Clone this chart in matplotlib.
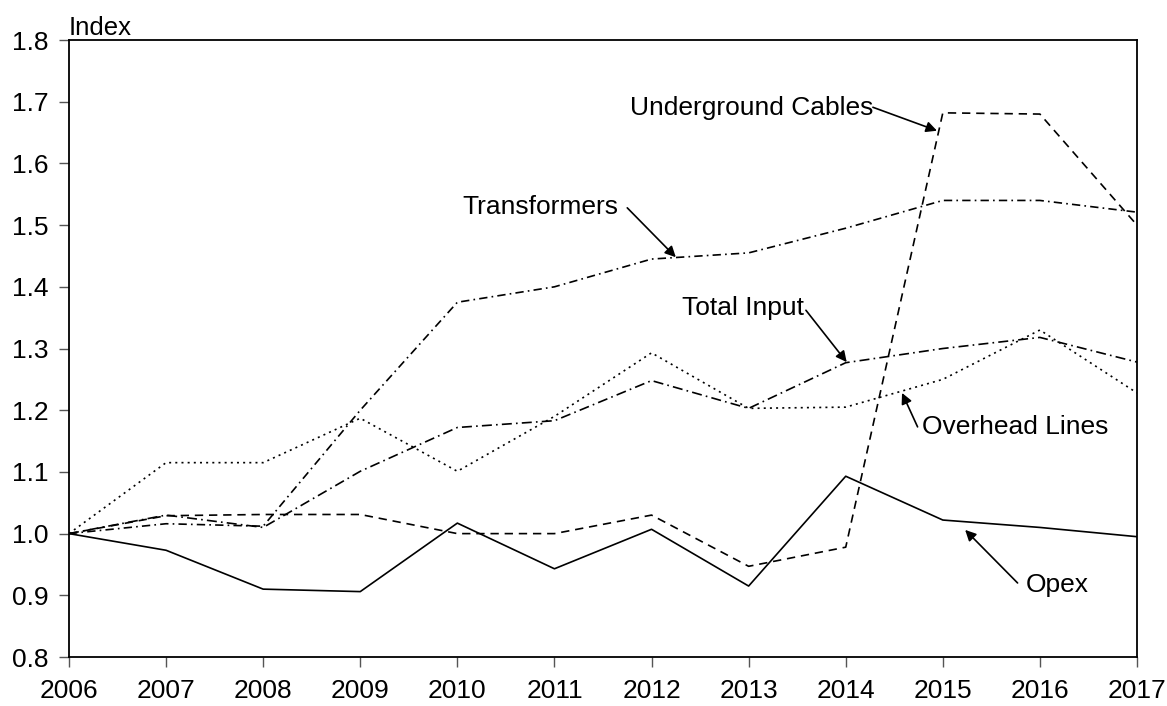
import matplotlib.pyplot as plt

plt.rcParams['font.family'] = ['Liberation Sans', 'DejaVu Sans']

years = list(range(2006, 2018))
opex = [1.000, 0.973, 0.910, 0.906, 1.017, 0.943, 1.007, 0.915, 1.093, 1.022, 1.010, 0.995]
underground = [1.000, 1.029, 1.031, 1.031, 1.000, 1.000, 1.030, 0.947, 0.978, 1.682, 1.680, 1.500]
transformers = [1.000, 1.016, 1.012, 1.200, 1.375, 1.400, 1.445, 1.455, 1.495, 1.540, 1.540, 1.521]
total_input = [1.000, 1.030, 1.010, 1.101, 1.172, 1.183, 1.248, 1.203, 1.277, 1.300, 1.318, 1.278]
overhead = [1.000, 1.115, 1.115, 1.187, 1.101, 1.190, 1.293, 1.203, 1.205, 1.250, 1.330, 1.228]

fig = plt.figure(figsize=(11.67, 7.06), dpi=100)
ax = fig.add_axes([0.0591, 0.0694, 0.9152, 0.8739])

lw = 1.2
ax.plot(years, opex, color='black', linewidth=lw, linestyle='-')
ax.plot(years, underground, color='black', linewidth=lw, linestyle=(0, (5, 3.5)))
ax.plot(years, transformers, color='black', linewidth=lw, linestyle=(0, (5, 2.5, 1, 2.5)))
ax.plot(years, total_input, color='black', linewidth=lw, linestyle=(0, (6, 2.5, 1, 2.5)))
ax.plot(years, overhead, color='black', linewidth=lw, linestyle=(0, (1.2, 2.5)))

ax.set_xlim(2006, 2017)
ax.set_ylim(0.8, 1.8)
ax.set_xticks(years)
ax.set_yticks([0.8, 0.9, 1.0, 1.1, 1.2, 1.3, 1.4, 1.5, 1.6, 1.7, 1.8])
ax.set_yticklabels([f'{v:.1f}' for v in ax.get_yticks()])
ax.tick_params(labelsize=19, length=7, width=1, color='#555555')
ax.tick_params(axis='y', pad=8)
ax.tick_params(axis='x', pad=9)
for s in ax.spines.values():
    s.set_linewidth(1.3)

ax.text(0.0, 1.0, 'Index', transform=ax.transAxes, fontsize=18.5,
        ha='left', va='bottom')

# labels and their arrows: (text, text pos, arrow tail, arrow head)
labels = ['Underground Cables', 'Transformers', 'Total Input', 'Overhead Lines', 'Opex']
text_pos = [(2011.78, 1.69), (2010.05, 1.53), (2012.31, 1.366), (2014.79, 1.173), (2015.85, 0.917)]
tails = [(2014.28, 1.691), (2011.75, 1.528), (2013.59, 1.362), (2014.74, 1.173), (2015.77, 0.920)]
heads = [(2014.94, 1.653), (2012.25, 1.448), (2014.01, 1.278), (2014.58, 1.228), (2015.23, 1.006)]

arrow = dict(arrowstyle='-|>', color='black', lw=1.2, mutation_scale=16,
             shrinkA=0, shrinkB=0)
for lab, tp, t, h in zip(labels, text_pos, tails, heads):
    ax.text(tp[0], tp[1], lab, fontsize=19, ha='left', va='center')
    ax.annotate('', xy=h, xytext=t, arrowprops=arrow)

fig.savefig('out.png', dpi=100, facecolor='white')
